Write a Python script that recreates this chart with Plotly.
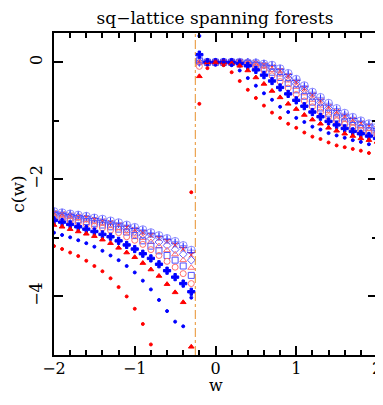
import plotly.graph_objects as go

w_left = [-2.0, -1.9, -1.8, -1.7, -1.6, -1.5, -1.4, -1.3, -1.2, -1.1,
          -1.0, -0.9, -0.8, -0.7, -0.6, -0.5, -0.4, -0.3]
w_right = [-0.2, -0.1, 0.0, 0.1, 0.2, 0.3, 0.4, 0.5, 0.6, 0.7, 0.8, 0.9,
           1.0, 1.1, 1.2, 1.3, 1.4, 1.5, 1.6, 1.7, 1.8, 1.9, 2.0]
w_sing = -0.25

# c(w) on the left branch (w < -1/4)
c1_left = [-3.14, -3.19, -3.25, -3.31, -3.39, -3.48, -3.57, -3.69, -3.84, -4.00, -4.21, -4.47, -4.82, None, None, None, None, -2.22]
c2_left = [-2.91, -2.95, -2.99, -3.04, -3.09, -3.15, -3.22, -3.30, -3.38, -3.48, -3.59, -3.73, -3.88, -4.06, -4.25, -4.43, -4.51, -4.02]
c3_left = [-2.78, -2.81, -2.85, -2.89, -2.93, -2.97, -3.03, -3.09, -3.17, -3.25, -3.33, -3.43, -3.54, -3.65, -3.79, -3.93, -4.10, -4.86]
c4_left = [-2.70, -2.73, -2.77, -2.81, -2.85, -2.89, -2.94, -2.98, -3.05, -3.12, -3.19, -3.27, -3.35, -3.45, -3.56, -3.67, -3.78, -3.92]
c5_left = [-2.66, -2.68, -2.71, -2.74, -2.77, -2.80, -2.83, -2.87, -2.91, -2.98, -3.04, -3.11, -3.20, -3.30, -3.40, -3.50, -3.61, -3.78]
c6_left = [-2.62, -2.64, -2.66, -2.69, -2.72, -2.75, -2.78, -2.81, -2.85, -2.90, -2.96, -3.05, -3.14, -3.22, -3.30, -3.38, -3.48, -3.64]
c7_left = [-2.60, -2.62, -2.64, -2.66, -2.69, -2.72, -2.75, -2.79, -2.83, -2.88, -2.94, -3.00, -3.07, -3.14, -3.21, -3.28, -3.38, -3.51]
c8_left = [-2.58, -2.60, -2.62, -2.64, -2.67, -2.70, -2.73, -2.76, -2.80, -2.84, -2.89, -2.95, -3.01, -3.07, -3.13, -3.20, -3.28, -3.38]
c9_left = [-2.57, -2.59, -2.61, -2.63, -2.65, -2.68, -2.71, -2.74, -2.78, -2.82, -2.86, -2.91, -2.96, -3.01, -3.06, -3.12, -3.19, -3.29]
c10_left = [-2.56, -2.58, -2.60, -2.62, -2.64, -2.67, -2.70, -2.73, -2.76, -2.80, -2.84, -2.88, -2.93, -2.98, -3.03, -3.09, -3.16, -3.25]
c11_left = [-2.55, -2.57, -2.59, -2.61, -2.63, -2.66, -2.68, -2.71, -2.74, -2.78, -2.82, -2.86, -2.91, -2.96, -3.01, -3.06, -3.13, -3.21]

# c(w) on the right branch (w > -1/4)
c1_right = [-0.71, -0.10, 0.00, -0.05, -0.17, -0.32, -0.47, -0.61, -0.74, -0.86, -0.95, -1.05, -1.12, -1.20, -1.27, -1.31, -1.37, -1.42, -1.45, -1.48, -1.51, -1.55, -1.58]
c2_right = [0.45, 0.02, 0.00, 0.00, -0.05, -0.14, -0.27, -0.40, -0.53, -0.64, -0.76, -0.85, -0.95, -1.02, -1.10, -1.15, -1.21, -1.25, -1.29, -1.33, -1.36, -1.40, -1.42]
c3_right = [-0.24, 0.00, 0.00, 0.00, -0.02, -0.06, -0.14, -0.26, -0.37, -0.49, -0.60, -0.71, -0.80, -0.90, -0.98, -1.05, -1.12, -1.17, -1.22, -1.26, -1.30, -1.33, -1.36]
c4_right = [0.13, 0.00, 0.00, 0.00, 0.00, -0.02, -0.06, -0.13, -0.22, -0.32, -0.43, -0.54, -0.65, -0.75, -0.85, -0.93, -1.01, -1.07, -1.13, -1.18, -1.22, -1.26, -1.30]
c5_right = [-0.07, 0.00, 0.00, 0.00, 0.00, 0.00, -0.03, -0.07, -0.14, -0.23, -0.33, -0.44, -0.55, -0.66, -0.76, -0.85, -0.93, -1.00, -1.06, -1.12, -1.17, -1.21, -1.25]
c6_right = [0.02, 0.00, 0.00, 0.00, 0.00, 0.00, -0.02, -0.05, -0.10, -0.17, -0.26, -0.36, -0.47, -0.58, -0.68, -0.78, -0.87, -0.95, -1.02, -1.08, -1.13, -1.17, -1.21]
c7_right = [0.00, 0.00, 0.00, 0.00, 0.00, 0.00, -0.01, -0.03, -0.07, -0.13, -0.21, -0.31, -0.42, -0.53, -0.64, -0.74, -0.83, -0.91, -0.98, -1.04, -1.09, -1.14, -1.18]
c8_right = [0.00, 0.00, 0.00, 0.00, 0.00, 0.00, 0.00, -0.02, -0.05, -0.10, -0.17, -0.27, -0.37, -0.48, -0.59, -0.69, -0.79, -0.87, -0.94, -1.01, -1.06, -1.11, -1.16]
c9_right = [0.00, 0.00, 0.00, 0.00, 0.00, 0.00, 0.00, -0.01, -0.04, -0.08, -0.14, -0.23, -0.34, -0.45, -0.56, -0.66, -0.76, -0.84, -0.92, -0.98, -1.04, -1.09, -1.14]
c10_right = [0.00, 0.00, 0.00, 0.00, 0.00, 0.00, 0.00, -0.01, -0.03, -0.06, -0.12, -0.21, -0.31, -0.42, -0.53, -0.63, -0.73, -0.82, -0.90, -0.96, -1.02, -1.07, -1.13]
c11_right = [0.03, 0.00, 0.00, 0.00, 0.00, 0.00, -0.01, -0.01, -0.03, -0.05, -0.11, -0.19, -0.29, -0.40, -0.51, -0.60, -0.70, -0.79, -0.87, -0.94, -1.00, -1.05, -1.11]

series = [
    (c11_left, c11_right, "circle-cross-open", 8, "rgba(110,110,255,0.75)"),
    (c10_left, c10_right, "cross-thin-open", 6, "#3030ff"),
    (c9_left, c9_right, "x-thin-open", 5, "#ff3030"),
    (c8_left, c8_right, "diamond-open", 6, "#6060ff"),
    (c7_left, c7_right, "triangle-up-open", 6, "#ff7070"),
    (c6_left, c6_right, "square-open", 6, "#5050ff"),
    (c5_left, c5_right, "circle-open", 6, "#ff7070"),
    (c4_left, c4_right, "cross", 6, "#0000ff"),
    (c3_left, c3_right, "triangle-up", 5, "#ff0000"),
    (c2_left, c2_right, "circle", 3, "#0000ff"),
    (c1_left, c1_right, "circle", 3, "#ff0000"),
]

fig = go.Figure()
for cl, cr, sym, sz, col in series:
    fig.add_trace(go.Scatter(
        x=w_left + w_right, y=cl + cr, mode="markers",
        marker=dict(symbol=sym, size=sz, color=col,
                    line=dict(width=1, color=col)),
        showlegend=False, cliponaxis=True))

fig.add_shape(type="line", x0=w_sing, x1=w_sing, y0=0, y1=1, yref="paper",
              line=dict(color="#e8902c", width=1, dash="dashdot"))

font = "DejaVu Serif"
axis = dict(showline=True, linecolor="black", linewidth=2, mirror="allticks",
            ticks="inside", tickcolor="black", showgrid=False, zeroline=False,
            automargin=False, ticklabeloverflow="allow",
            tickfont=dict(family=font, size=16, color="black"))
fig.update_xaxes(range=[-2, 2], dtick=1, ticklen=9, tickwidth=1.5,
                 ticklabelstandoff=-2,
                 minor=dict(dtick=0.2, ticks="inside", ticklen=5, tickcolor="black"),
                 **axis)
fig.update_yaxes(range=[-5, 0.5], dtick=2, ticklen=9, tickwidth=1.5, tickangle=-90,
                 ticklabelstandoff=4,
                 minor=dict(dtick=1, ticks="inside", ticklen=5, tickcolor="black"),
                 title=dict(text="c(w)", font=dict(family=font, size=17, color="black"), standoff=8),
                 **axis)

# x-axis title placed at the bottom edge of the figure
fig.add_annotation(text="w", xref="paper", yref="paper", x=0.5, y=-0.1304,
                   xanchor="center", yanchor="bottom", showarrow=False,
                   font=dict(family=font, size=16, color="black"))

# the page body adds an 8px margin all round, so the figure is shrunk to fit the window
fig.update_layout(
    width=375, height=389,
    margin=dict(l=46, r=6, t=25, b=42),
    paper_bgcolor="white", plot_bgcolor="white",
    title=dict(text="sq\u2212lattice spanning forests", x=0.552, xanchor="center",
               y=0.975, yanchor="middle",
               font=dict(family=font, size=17, color="black")),
)

fig.write_html("out.html")
